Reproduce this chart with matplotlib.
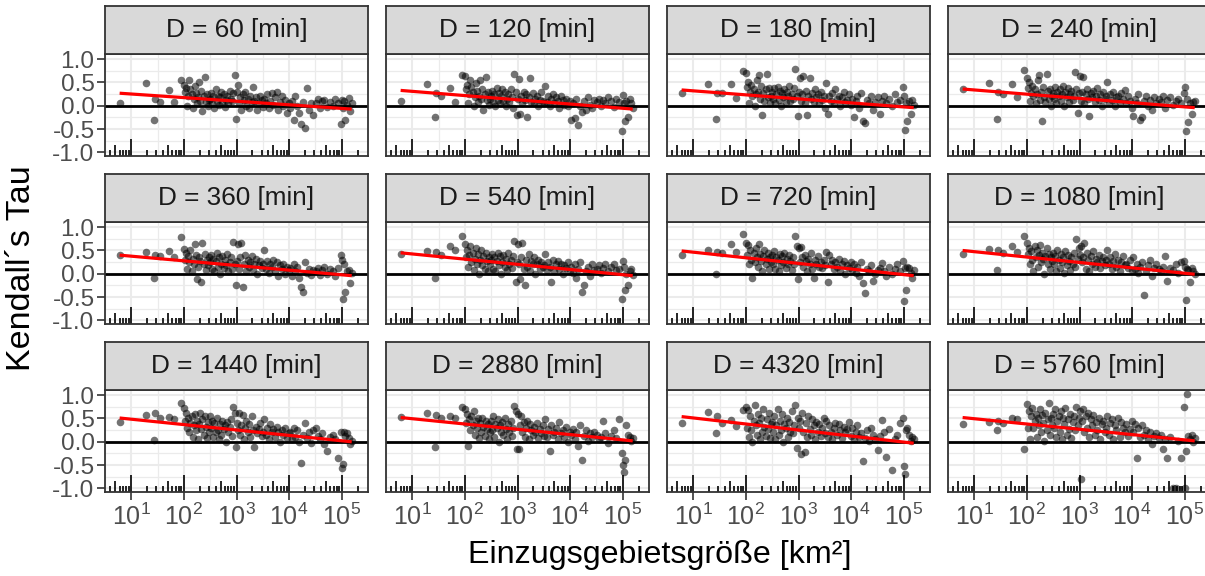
import numpy as np
import matplotlib
matplotlib.use('Agg')
import matplotlib.pyplot as plt

plt.rcParams['font.family'] = ['Liberation Sans', 'DejaVu Sans']
plt.rcParams['mathtext.fontset'] = 'custom'
plt.rcParams['mathtext.rm'] = 'Liberation Sans'
plt.rcParams['mathtext.it'] = 'Liberation Sans:italic'
plt.rcParams['mathtext.bf'] = 'Liberation Sans:bold'

# ---------------- data ----------------
durations = [60, 120, 180, 240, 360, 540, 720, 1080, 1440, 2880, 4320, 5760]

area_km2 = [6, 19, 27, 28, 35, 52, 66, 89,
            100, 104, 110, 115, 120, 126, 132, 140, 148, 155, 160, 170, 178, 186, 195, 205, 215, 225, 238, 250, 262, 275, 290, 300,
            315, 330, 345, 360, 380, 400, 420, 440, 460, 485, 510, 540, 570, 600, 630, 660, 700, 740, 780, 820, 870, 920, 970,
            1000, 1050, 1110, 1170, 1240, 1310, 1380, 1460, 1540, 1630, 1720, 1820, 1930, 2050, 2180, 2320, 2470, 2620, 2800, 3000, 3200,
            3400, 3600, 3850, 4100, 4400, 4700, 5000, 5400, 5800, 6200, 6700, 7200, 7800, 8400, 9100, 9800,
            10500, 11300, 12200, 13200, 14300, 15500, 17000, 18500, 20000, 22000, 24000, 26500, 29000,
            32000, 35000, 38000, 42000, 47000, 53000, 60000, 68000, 76000, 85000, 95000, 100000, 104000, 110000, 118000, 126000, 135000, 145000, 155000]

tau_60 = [0.05, 0.48, -0.30, 0.14, 0.09, 0.34, 0.09, 0.56,
          0.45, 0.30, 0.38, 0.0, 0.22, 0.55, 0.35, 0.25, -0.05, 0.15, 0.42, 0.28, 0.05, 0.18, 0.50, 0.10, 0.32, -0.12, 0.20, 0.62, 0.08, 0.25, 0.0, 0.12,
          0.15, 0.28, 0.05, 0.20, -0.05, 0.35, 0.10, 0.22, 0.02, 0.18, 0.30, 0.08, 0.25, -0.02, 0.12, 0.20, 0.05, 0.32, 0.15, 0.10, 0.28, 0.67, -0.28,
          0.30, 0.45, 0.05, 0.18, -0.10, 0.25, 0.12, 0.30, 0.0, 0.15, -0.05, 0.22, 0.08, 0.41, 0.10, 0.18, -0.08, 0.05, 0.20, 0.12, -0.02,
          0.15, 0.05, 0.25, -0.05, 0.10, 0.28, 0.02, 0.18, 0.30, -0.10, 0.08, 0.20, 0.0, 0.12, -0.15, 0.05,
          -0.05, 0.10, -0.31, 0.22, 0.0, -0.15, -0.40, 0.08, -0.47, 0.38, -0.10, 0.05, -0.20,
          0.05, 0.15, -0.05, 0.10, 0.12, -0.02, 0.08, 0.0, 0.15, 0.05, -0.38, 0.12, -0.05, 0.10, -0.30, 0.02, 0.16, -0.11, 0.05]

tau_120 = [0.11, 0.46, -0.25, 0.27, 0.20, 0.38, 0.09, 0.67,
           0.63, 0.35, 0.45, 0.05, 0.25, 0.56, 0.40, 0.30, 0.0, 0.18, 0.48, 0.32, 0.08, 0.22, 0.55, 0.15, 0.36, -0.08, 0.25, 0.62, 0.12, 0.30, 0.02, 0.15,
           0.20, 0.32, 0.08, 0.25, 0.0, 0.38, 0.12, 0.28, 0.05, 0.20, 0.35, 0.10, 0.30, 0.0, 0.15, 0.25, 0.08, 0.35, 0.18, -0.05, 0.69, 0.30, -0.20,
           0.15, 0.58, -0.17, 0.22, 0.05, 0.30, 0.12, 0.25, -0.25, 0.18, 0.59, 0.08, 0.28, 0.05, 0.15, 0.22, 0.0, 0.12, 0.30, 0.10, 0.05,
           0.43, 0.08, 0.20, 0.0, 0.15, 0.25, 0.05, 0.18, 0.10, -0.05, 0.22, 0.12, 0.02, 0.15, 0.0, 0.10,
           -0.31, 0.05, -0.27, 0.15, -0.42, 0.0, -0.13, 0.10, -0.08, 0.18, 0.02, -0.05, 0.12,
           0.08, 0.15, 0.0, 0.12, 0.05, 0.18, 0.10, -0.02, 0.15, 0.08, -0.53, 0.23, 0.05, -0.33, 0.10, -0.24, 0.15, 0.05, -0.05]

tau_180 = [0.28, 0.46, -0.28, 0.27, 0.27, 0.46, 0.16, 0.75,
           0.70, 0.40, 0.52, 0.05, 0.30, 0.45, 0.20, 0.35, 0.0, 0.25, 0.55, 0.30, 0.67, 0.15, 0.42, -0.20, 0.28, 0.10, 0.35, 0.69, 0.18, 0.38, 0.05, 0.22,
           0.30, 0.15, 0.38, 0.05, 0.25, 0.40, 0.12, 0.32, 0.0, 0.28, 0.18, 0.35, 0.08, 0.30, 0.20, 0.42, 0.10, 0.25, 0.15, 0.38, 0.79, 0.20, -0.22,
           0.30, 0.59, 0.10, 0.25, 0.63, 0.05, 0.32, -0.20, 0.20, 0.60, 0.15, 0.28, 0.08, 0.35, 0.18, 0.25, 0.05, 0.30, 0.12, 0.22, -0.05,
           0.49, -0.17, 0.20, 0.10, 0.28, 0.05, 0.35, 0.15, 0.22, 0.0, 0.18, 0.30, 0.08, 0.12, 0.25, 0.02,
           0.15, -0.24, 0.10, 0.20, -0.05, 0.28, -0.33, -0.37, 0.12, 0.05, 0.22, -0.10, 0.08,
           0.18, -0.17, 0.10, 0.22, 0.05, 0.15, 0.0, 0.25, 0.08, 0.12, 0.40, 0.20, -0.51, 0.05, -0.33, 0.10, -0.17, 0.12, 0.02]

tau_240 = [0.36, 0.49, -0.29, 0.30, 0.25, 0.46, 0.18, 0.76,
           0.59, 0.38, 0.50, 0.10, 0.28, 0.42, 0.20, 0.35, 0.05, 0.25, 0.55, 0.67, 0.12, 0.30, -0.33, 0.40, 0.18, 0.08, 0.68, 0.32, 0.15, 0.36, 0.0, 0.22,
           0.28, 0.15, 0.40, 0.05, 0.30, 0.22, 0.35, 0.10, 0.25, 0.42, 0.0, 0.30, 0.18, 0.38, 0.08, 0.25, 0.32, 0.12, 0.20, 0.72, 0.35, -0.15, 0.28,
           0.63, 0.10, 0.30, 0.62, 0.05, 0.25, 0.35, 0.15, -0.22, 0.28, 0.18, 0.32, 0.08, 0.22, 0.38, 0.12, 0.25, 0.0, 0.30, 0.15, 0.20,
           0.51, 0.05, 0.25, 0.12, 0.30, 0.0, 0.18, 0.22, 0.08, 0.28, 0.15, 0.34, 0.05, 0.20, 0.10, -0.05,
           -0.22, 0.15, 0.05, 0.25, -0.31, -0.25, 0.10, 0.20, 0.0, 0.12, -0.10, 0.18, 0.05,
           0.15, 0.08, 0.20, -0.05, 0.12, 0.18, 0.02, 0.10, 0.15, 0.05, 0.28, 0.40, -0.53, 0.15, -0.35, 0.05, -0.17, 0.09, 0.10]

tau_360 = [0.41, 0.46, -0.08, 0.41, 0.38, 0.49, 0.35, 0.78,
           0.54, 0.30, 0.45, 0.10, 0.38, 0.25, 0.50, 0.05, 0.32, 0.20, 0.63, 0.40, -0.12, 0.15, 0.35, 0.28, -0.17, 0.67, 0.22, 0.42, 0.08, 0.30, 0.18, 0.35,
           0.25, 0.40, 0.10, 0.32, 0.05, 0.28, 0.45, 0.15, 0.35, 0.0, 0.22, 0.38, 0.12, 0.30, 0.18, 0.42, 0.05, 0.25, 0.35, 0.10, 0.69, 0.20, -0.24,
           0.28, 0.63, 0.10, 0.35, 0.67, -0.28, 0.22, 0.40, 0.05, 0.30, 0.15, 0.25, 0.38, 0.08, 0.20, 0.32, 0.0, 0.18, 0.28, 0.12, 0.22,
           0.51, 0.10, 0.28, 0.02, 0.20, 0.15, 0.30, 0.05, 0.25, -0.05, 0.18, 0.10, 0.22, 0.0, 0.15, 0.08,
           0.12, -0.05, 0.20, 0.05, 0.15, -0.10, -0.28, -0.40, 0.25, 0.02, 0.10, -0.02, 0.08,
           0.05, 0.12, -0.03, 0.08, 0.15, 0.0, 0.10, 0.05, -0.05, 0.12, 0.41, 0.30, -0.55, 0.20, -0.38, 0.05, 0.09, -0.20, 0.02]

tau_540 = [0.43, 0.49, -0.08, 0.46, 0.40, 0.59, 0.51, 0.80,
           0.63, 0.35, 0.50, 0.15, 0.40, 0.59, 0.25, 0.45, 0.08, 0.32, 0.55, 0.20, 0.42, 0.0, 0.30, 0.51, 0.18, 0.38, 0.10, 0.45, 0.28, 0.05, 0.35, 0.22,
           0.30, 0.42, 0.10, 0.35, 0.05, 0.28, 0.45, 0.18, 0.38, 0.0, 0.25, 0.40, 0.15, 0.32, 0.08, 0.45, 0.22, 0.30, 0.12, 0.38, 0.70, -0.17, 0.25,
           0.64, 0.20, -0.12, 0.35, 0.67, 0.10, -0.24, 0.30, 0.15, 0.42, 0.05, 0.28, 0.20, 0.35, 0.0, 0.22, 0.30, 0.10, 0.25, 0.15, 0.18,
           0.43, 0.08, 0.25, 0.15, -0.17, 0.30, 0.05, 0.20, 0.28, 0.10, 0.22, 0.0, 0.18, 0.12, 0.25, 0.05,
           0.15, 0.02, 0.20, -0.08, 0.10, 0.25, -0.38, -0.24, 0.05, 0.15, -0.05, 0.22, 0.08,
           0.10, 0.18, 0.02, 0.12, 0.20, 0.05, 0.15, 0.22, 0.08, 0.10, -0.53, 0.27, 0.15, -0.35, 0.0, -0.24, 0.05, 0.10, -0.02]

tau_720 = [0.41, 0.51, 0.0, 0.47, 0.45, 0.64, 0.47, 0.86,
           0.67, 0.40, 0.62, 0.20, 0.50, 0.30, -0.10, 0.45, 0.25, 0.55, 0.35, 0.15, 0.63, 0.42, 0.28, 0.05, 0.38, 0.50, 0.20, 0.32, 0.45, 0.10, 0.36, 0.25,
           0.40, 0.22, 0.48, 0.10, 0.35, 0.30, 0.05, 0.42, 0.18, 0.38, 0.25, 0.45, 0.12, 0.32, 0.20, 0.40, 0.28, 0.08, 0.35, 0.22, 0.80, 0.60, -0.12,
           0.55, 0.25, 0.58, 0.35, 0.15, 0.40, 0.28, 0.05, 0.32, 0.20, 0.45, 0.10, -0.10, 0.30, 0.22, 0.38, 0.15, 0.25, 0.12, 0.30, 0.18,
           0.46, -0.17, 0.40, 0.20, 0.30, 0.10, 0.25, 0.15, 0.32, 0.05, 0.22, 0.28, 0.0, 0.18, 0.12, 0.25,
           0.08, 0.20, 0.02, 0.15, -0.05, 0.25, -0.20, -0.42, 0.10, 0.05, 0.18, -0.15, 0.0,
           0.08, 0.12, 0.23, 0.05, -0.05, 0.15, 0.0, 0.10, 0.20, 0.05, 0.28, -0.59, 0.12, -0.35, 0.15, 0.12, 0.02, -0.10, 0.08]

tau_1080 = [0.43, 0.53, 0.09, 0.51, 0.45, 0.59, 0.46, 0.80,
            0.65, 0.42, 0.55, 0.20, 0.48, 0.30, 0.05, 0.60, 0.35, 0.50, 0.15, 0.40, 0.62, 0.25, 0.45, 0.32, 0.0, 0.38, 0.55, 0.22, 0.42, 0.10, 0.35, 0.28,
            0.45, 0.20, 0.38, 0.05, 0.50, 0.30, 0.12, 0.42, 0.25, 0.35, 0.02, 0.48, 0.18, 0.40, 0.28, 0.08, 0.36, 0.22, 0.45, 0.15, 0.75, 0.32, 0.55,
            0.40, 0.60, 0.25, 0.35, 0.67, 0.10, 0.45, 0.30, 0.05, 0.38, 0.20, 0.48, 0.15, 0.32, 0.25, 0.40, 0.12, 0.28, 0.35, 0.18, 0.30,
            0.50, 0.20, 0.35, 0.10, 0.28, 0.42, 0.15, 0.30, 0.05, 0.25, 0.38, 0.18, 0.22, 0.12, 0.30, 0.08,
            0.35, 0.10, 0.22, 0.02, 0.15, 0.25, -0.46, 0.05, 0.18, 0.30, -0.05, 0.12, 0.20,
            0.10, 0.05, 0.15, 0.38, -0.15, 0.12, 0.08, 0.20, 0.02, 0.25, 0.28, 0.15, -0.56, 0.10, 0.08, -0.17, 0.12, 0.05, 0.0]

tau_1440 = [0.43, 0.58, 0.04, 0.62, 0.50, 0.53, 0.49, 0.83,
            0.72, 0.45, 0.62, 0.30, 0.50, 0.20, 0.40, 0.55, 0.10, 0.35, 0.60, 0.25, 0.45, 0.05, 0.38, 0.62, 0.28, 0.48, 0.15, 0.55, 0.32, 0.08, 0.42, 0.22,
            0.55, 0.30, 0.45, 0.10, 0.40, 0.20, 0.50, 0.25, 0.05, 0.38, 0.15, 0.45, 0.28, 0.35, 0.0, 0.42, 0.20, 0.32, 0.48, 0.12, 0.75, 0.62, -0.12,
            0.40, 0.25, 0.62, 0.15, 0.35, 0.58, 0.05, 0.30, 0.45, 0.20, 0.38, 0.10, 0.55, 0.25, -0.12, 0.32, 0.18, 0.28, 0.40, 0.12, 0.22,
            0.48, 0.15, 0.30, 0.05, 0.38, 0.22, 0.28, 0.10, 0.32, 0.20, 0.0, 0.25, 0.15, 0.30, 0.08, 0.18,
            0.20, 0.05, 0.30, 0.10, 0.25, 0.0, -0.46, 0.15, 0.40, 0.08, 0.22, -0.02, 0.25,
            0.30, 0.12, 0.05, 0.18, -0.05, -0.20, 0.10, 0.15, 0.05, -0.35, 0.20, -0.57, -0.48, 0.22, 0.12, 0.18, 0.08, -0.05, 0.02]

tau_2880 = [0.54, 0.62, -0.11, 0.58, 0.50, 0.56, 0.51, 0.75,
            0.71, 0.40, 0.60, -0.10, 0.48, 0.25, 0.55, 0.35, 0.65, 0.15, 0.45, 0.30, 0.52, 0.08, 0.40, 0.22, 0.50, 0.32, 0.12, 0.45, 0.28, 0.38, 0.05, 0.20,
            0.45, 0.25, 0.55, 0.10, 0.38, 0.30, 0.48, 0.0, 0.35, 0.20, 0.42, 0.15, 0.50, 0.28, 0.05, 0.38, 0.22, 0.45, 0.12, 0.30, 0.77, 0.65, -0.16,
            0.60, -0.15, 0.35, 0.55, 0.20, 0.42, 0.10, 0.30, 0.45, 0.05, 0.38, 0.25, 0.15, 0.32, 0.20, 0.40, 0.08, 0.28, 0.18, 0.35, 0.12,
            0.48, 0.10, 0.28, -0.20, 0.35, 0.15, 0.22, 0.30, 0.05, 0.42, 0.18, 0.25, 0.10, 0.32, 0.0, 0.20,
            0.15, 0.28, 0.05, 0.20, -0.10, 0.35, -0.39, 0.12, 0.25, 0.02, 0.18, 0.10, 0.22,
            0.15, 0.05, 0.10, 0.45, 0.18, -0.02, 0.12, 0.25, 0.08, 0.48, -0.25, -0.50, -0.65, -0.39, 0.35, 0.15, 0.10, 0.02, 0.08]

tau_4320 = [0.41, 0.63, 0.19, 0.56, 0.40, 0.47, 0.33, 0.69,
            0.75, 0.30, 0.69, 0.10, 0.55, 0.25, 0.0, 0.45, 0.79, 0.35, 0.15, 0.60, 0.40, 0.05, 0.50, 0.22, 0.70, 0.32, 0.12, 0.48, 0.28, 0.62, 0.08, 0.38,
            0.42, 0.20, 0.55, 0.05, 0.35, 0.70, 0.15, 0.45, 0.25, 0.60, 0.0, 0.38, 0.30, 0.50, 0.10, 0.42, 0.22, 0.65, 0.18, 0.35, 0.79, -0.14, 0.50,
            0.30, 0.45, -0.26, 0.62, 0.20, -0.22, 0.40, 0.10, 0.55, 0.28, 0.15, 0.48, 0.35, 0.05, 0.42, 0.22, 0.38, 0.12, 0.30, 0.50, 0.18,
            0.45, 0.10, 0.35, 0.20, 0.05, 0.30, 0.40, 0.15, 0.38, 0.25, 0.08, 0.32, 0.20, 0.28, 0.42, 0.12,
            0.30, 0.05, 0.22, 0.35, 0.10, 0.18, -0.41, 0.08, 0.25, 0.02, 0.30, 0.15, 0.05,
            -0.18, 0.12, 0.47, 0.20, -0.32, 0.28, -0.61, 0.05, 0.15, 0.40, 0.51, -0.51, -0.69, 0.25, 0.30, 0.15, 0.02, 0.10, 0.05]

tau_5760 = [0.39, 0.43, 0.25, 0.45, 0.40, 0.50, 0.48, -0.16,
            0.80, 0.30, 0.65, 0.05, 0.55, 0.72, 0.30, 0.45, 0.60, 0.10, 0.50, 0.35, 0.70, 0.20, 0.58, 0.40, 0.02, 0.62, 0.25, 0.48, 0.84, 0.15, 0.52, 0.35,
            0.60, 0.30, 0.70, 0.10, 0.45, 0.55, 0.20, 0.65, 0.05, 0.50, 0.38, 0.72, 0.15, 0.48, 0.28, 0.60, 0.08, 0.42, 0.55, 0.25, 0.75, 0.35, 0.50,
            0.65, -0.80, 0.45, 0.70, 0.20, 0.55, 0.30, 0.62, 0.10, 0.48, 0.35, 0.58, 0.15, 0.42, 0.25, 0.52, 0.05, 0.38, 0.45, 0.20, 0.30,
            0.55, 0.15, 0.40, 0.48, 0.05, 0.35, 0.25, 0.50, 0.10, 0.42, 0.30, 0.20, 0.38, 0.12, 0.28, 0.45,
            0.22, 0.38, -0.35, 0.30, 0.10, 0.35, 0.15, 0.25, 0.05, 0.20, -0.05, 0.12, 0.18,
            0.08, 0.15, -0.16, 0.05, -0.35, 0.10, -0.98, -1.0, 0.02, -0.35, 0.75, -1.0, -0.20, 1.03, 0.12, 0.05, 0.15, 0.0, 0.08]

tau_by_duration = [tau_60, tau_120, tau_180, tau_240, tau_360, tau_540,
                   tau_720, tau_1080, tau_1440, tau_2880, tau_4320, tau_5760]

# regression line: tau at smallest and at largest catchment
trend_start = [0.27, 0.33, 0.34, 0.36, 0.40, 0.45, 0.49, 0.50, 0.51, 0.52, 0.54, 0.52]
trend_end = [-0.07, -0.07, -0.04, -0.04, -0.04, -0.04, -0.04, -0.01, 0.00, 0.02, -0.03, 0.02]

x_tick_vals = [10, 100, 1000, 10000, 100000]
x_tick_labels = [r'$\mathregular{10^{1}}$', r'$\mathregular{10^{2}}$', r'$\mathregular{10^{3}}$',
                 r'$\mathregular{10^{4}}$', r'$\mathregular{10^{5}}$']
y_tick_vals = [-1.0, -0.5, 0.0, 0.5, 1.0]
y_tick_labels = ['-1.0', '-0.5', '0.0', '0.5', '1.0']

# ---------------- layout ----------------
W, H = 1205, 576
fig = plt.figure(figsize=(W / 100, H / 100), dpi=100)

col_left = [105, 386, 667, 948]
panel_w = 263
panel_top = [54, 222, 390]
panel_h = 102
strip_h = 48

GRID = '#EBEBEB'
DARK = '#333333'
TXT = '#4D4D4D'

def rect(x0, y0, w, h):
    return [x0 / W, 1 - (y0 + h) / H, w / W, h / H]

xlim = (10 ** 0.586, 10 ** 5.377)
ylim = (-1.075, 1.11)
area = np.array(area_km2, dtype=float)

for i, dur in enumerate(durations):
    r, c = divmod(i, 4)
    ax = fig.add_axes(rect(col_left[c], panel_top[r], panel_w, panel_h))
    ax.set_xscale('log')
    ax.set_xlim(*xlim)
    ax.set_ylim(*ylim)
    ax.set_facecolor('white')

    # grid
    ax.set_xticks(x_tick_vals)
    ax.set_xticks([10 ** (k + 0.5) for k in range(0, 6)], minor=True)
    ax.set_yticks(y_tick_vals)
    ax.set_yticks([-0.75, -0.25, 0.25, 0.75], minor=True)
    ax.grid(which='major', color=GRID, lw=1.5)
    ax.grid(which='minor', color=GRID, lw=0.9)
    ax.set_axisbelow(True)

    # log ticks at the bottom (annotation_logticks style)
    tr = ax.get_xaxis_transform()
    for k in range(0, 6):
        for m in range(1, 10):
            v = m * 10 ** k
            if xlim[0] <= v <= xlim[1]:
                L = 17.0 if m == 1 else (11.4 if m == 5 else 5.7)
                ax.plot([v, v], [0, L / panel_h], transform=tr, color='black', lw=1.2,
                        solid_capstyle='butt', zorder=2)

    y = np.array(tau_by_duration[i])
    ax.axhline(0, color='black', lw=2.0, zorder=3)
    ax.scatter(area, y, s=30, color='black', alpha=0.55, linewidths=0, zorder=4)
    ax.plot([area.min(), area.max()], [trend_start[i], trend_end[i]], color='#FF0000', lw=2.3,
            solid_capstyle='butt', zorder=5)

    for sp in ax.spines.values():
        sp.set_color(DARK)
        sp.set_linewidth(1.3)
        sp.set_zorder(6)

    # axes ticks and labels
    ax.tick_params(which='minor', length=0)
    if c == 0:
        ax.set_yticklabels(y_tick_labels)
        ax.tick_params(axis='y', which='major', length=5.5, width=1.2, color=DARK,
                       labelsize=17.6, labelcolor=TXT, pad=2)
    else:
        ax.tick_params(axis='y', which='major', length=0, labelleft=False)
    if r == 2:
        ax.set_xticklabels(x_tick_labels)
        ax.tick_params(axis='x', which='major', length=5.5, width=1.2, color=DARK,
                       labelsize=18, labelcolor=TXT, pad=3)
    else:
        ax.tick_params(axis='x', which='major', length=0, labelbottom=False)

    # strip
    sax = fig.add_axes(rect(col_left[c], panel_top[r] - strip_h, panel_w, strip_h))
    sax.set_facecolor('#D9D9D9')
    sax.set_xticks([])
    sax.set_yticks([])
    for sp in sax.spines.values():
        sp.set_color(DARK)
        sp.set_linewidth(1.3)
    sax.text(0.5, 0.5, f'D = {dur} [min]', ha='center', va='center', fontsize=18.8,
             color='#1A1A1A', transform=sax.transAxes)

fig.text(22 / W, 1 - 268 / H, 'Kendall\u00b4s Tau', rotation=90, ha='center', va='center',
         fontsize=24.5, color='black')
fig.text(660 / W, 1 - 555 / H, 'Einzugsgebietsgröße [km²]', ha='center', va='center',
         fontsize=23.2, color='black')

fig.savefig('out.png', dpi=100, facecolor='white')
